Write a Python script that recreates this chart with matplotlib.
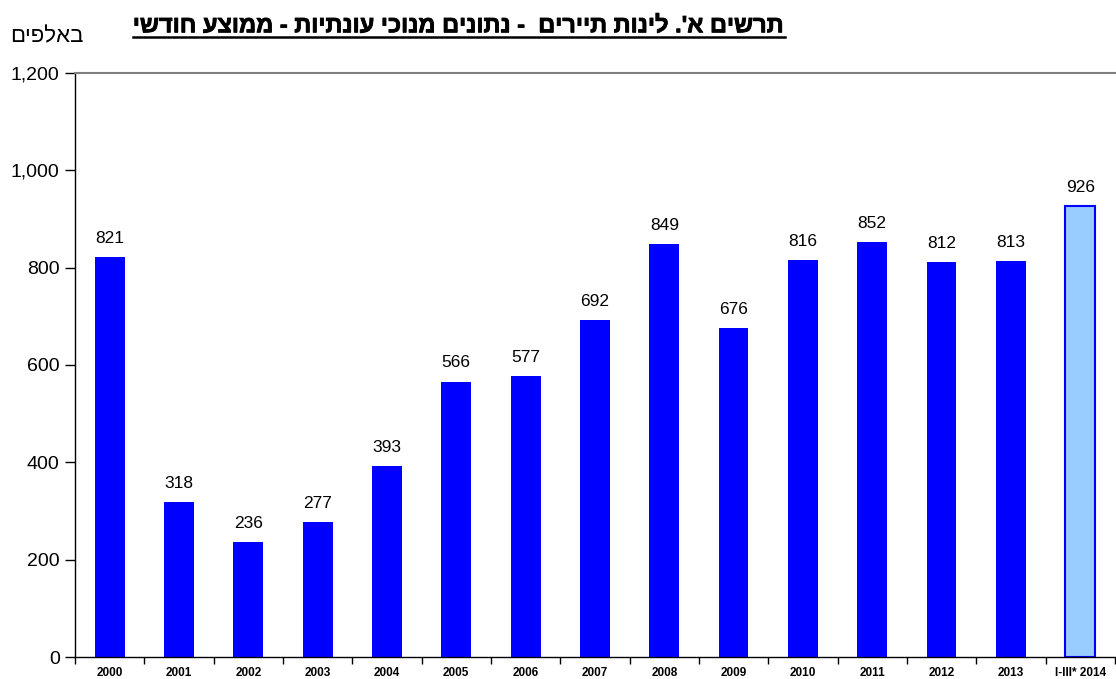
import matplotlib
matplotlib.use('Agg')
import matplotlib.pyplot as plt
import matplotlib.patheffects as pe
import numpy as np
from matplotlib.lines import Line2D
from matplotlib.ticker import FuncFormatter, FixedLocator

plt.rcParams['font.family'] = ['Liberation Sans', 'DejaVu Sans']

# datos
years = ['2000', '2001', '2002', '2003', '2004', '2005', '2006', '2007',
         '2008', '2009', '2010', '2011', '2012', '2013', 'I-III* 2014']
values = [821, 318, 236, 277, 393, 566, 577, 692, 849, 676, 816, 852, 812, 813, 926]

title = "תרשים א'. לינות תיירים  - נתונים מנוכי עונתיות - ממוצע חודשי"
unit = "באלפים"


def rtl(s):
    # matplotlib no hace bidi: invertir para mostrar de derecha a izquierda
    return s[::-1]


fig = plt.figure(figsize=(11.16, 6.79), dpi=100)
ax = fig.add_axes([0.0672, 0.0324, 0.9318, 0.8601])

x = np.arange(len(years))
colors = ['#0000FF'] * (len(years) - 1) + ['#99CCFF']
bars = ax.bar(x, values, width=0.43, color=colors, edgecolor='#0000FF', linewidth=0)
bars[-1].set_linewidth(1.5)

for xi, v in zip(x, values):
    ax.annotate(f'{v}', (xi, v), xytext=(0, 8), textcoords='offset points',
                ha='center', va='bottom', fontsize=12.5)

ax.set_xlim(-0.5, len(years) - 0.5)
ax.set_ylim(0, 1200)
ax.set_yticks(range(0, 1201, 200))
ax.yaxis.set_major_formatter(FuncFormatter(lambda v, p: f'{int(v):,}'))
ax.tick_params(axis='y', direction='out', length=7, labelsize=14, width=1, pad=4)

ax.set_xticks(x)
ax.set_xticklabels(years, fontsize=8.5, fontweight='bold')
ax.tick_params(axis='x', which='major', length=0, pad=7.5)
ax.xaxis.set_minor_locator(FixedLocator(np.arange(-0.5, len(years), 1.0)))
ax.tick_params(axis='x', which='minor', direction='out', length=5, width=1)

ax.spines['right'].set_visible(False)
ax.spines['top'].set_color('#808080')
ax.spines['top'].set_linewidth(1.5)
ax.spines['left'].set_linewidth(1)
ax.spines['bottom'].set_linewidth(1)

# titulo subrayado (trazo fino para simular negrita)
t = fig.text(0.411, 0.962, rtl(title), ha='center', va='center',
             fontsize=17, fontweight='bold',
             path_effects=[pe.withStroke(linewidth=0.6, foreground='black')])
fig.text(0.009, 0.946, rtl(unit), ha='left', va='center', fontsize=16)

fig.canvas.draw()
bb = t.get_window_extent().transformed(fig.transFigure.inverted())
fig.add_artist(Line2D([bb.x0, bb.x1], [bb.y0 + 0.001, bb.y0 + 0.001],
                      transform=fig.transFigure, color='black', linewidth=1.8))

plt.savefig('out.png', dpi=100)
plt.close()
